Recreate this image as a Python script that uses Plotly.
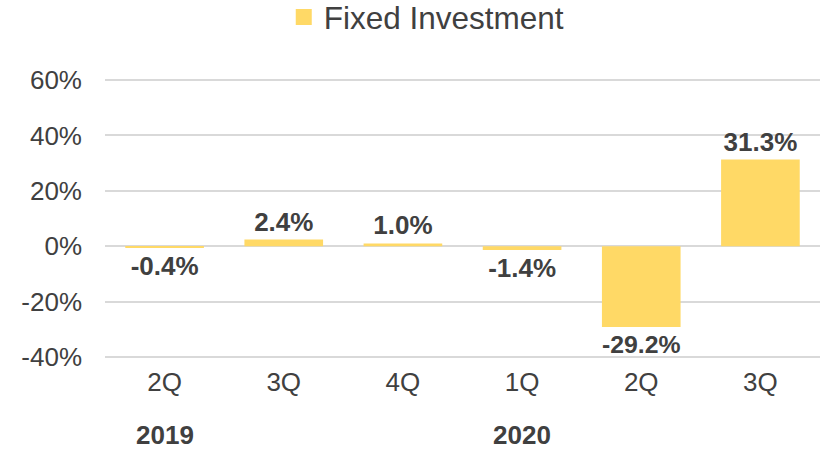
import plotly.graph_objects as go

categories = ["2Q", "3Q", "4Q", "1Q", "2Q ", "3Q "]
tick_labels = ["2Q", "3Q", "4Q", "1Q", "2Q", "3Q"]
values = [-0.4, 2.4, 1.0, -1.4, -29.2, 31.3]
years = ["2019", "2020"]
year_positions = [0, 3]
y_ticks = [-40, -20, 0, 20, 40, 60]
y_tick_labels = ["-40%", "-20%", "0%", "20%", "40%", "60%"]
series_name = "Fixed Investment"

font_family = "Liberation Sans, Arial, sans-serif"
dark = "#404040"
bar_color = "#FFD966"

fig = go.Figure()
fig.add_trace(go.Bar(
    x=categories, y=values, name=series_name,
    marker=dict(color=bar_color, line=dict(width=0)),
    width=0.66,
    text=[f"{v:.1f}%" for v in values],
    textposition="outside",
    textfont=dict(family=font_family, size=26, color=dark, weight="bold"),
    cliponaxis=False,
    showlegend=False,
    legendgroup="fi",
))
# legend entry only (larger square swatch)
fig.add_trace(go.Scatter(
    x=[None], y=[None], mode="markers", name=series_name, legendgroup="fi",
    marker=dict(symbol="square", size=16, color=bar_color),
    showlegend=True, hoverinfo="skip",
))

for yr, pos in zip(years, year_positions):
    fig.add_annotation(x=categories[pos], y=0, xref="x", yref="paper",
                       yshift=-77, yanchor="middle", text=f"<b>{yr}</b>",
                       showarrow=False,
                       font=dict(family=font_family, size=26, color=dark))

fig.update_layout(
    width=823, height=452,
    margin=dict(l=105, r=3, t=79, b=94, autoexpand=False),
    paper_bgcolor="white", plot_bgcolor="white",
    font=dict(family=font_family, size=26, color=dark),
    bargap=0.34,
    legend=dict(orientation="h", x=0.25, xanchor="left", y=1.222, yanchor="middle",
                yref="paper", font=dict(size=31.5, color=dark),
                itemwidth=30, traceorder="normal"),
    xaxis=dict(tickvals=categories, ticktext=tick_labels, showgrid=False,
               showline=False, ticks="", automargin=False,
               ticklabelstandoff=6, tickfont=dict(size=26, color=dark)),
    yaxis=dict(range=[-40.4, 60.4], tickvals=y_ticks, ticktext=y_tick_labels,
               showgrid=True, gridcolor="#D9D9D9", gridwidth=2,
               zeroline=True, zerolinecolor="#D9D9D9", zerolinewidth=2,
               showline=False, ticks="", automargin=False,
               ticklabelstandoff=22, tickfont=dict(size=26, color=dark)),
)

fig.write_html("out.html",
               config={"displayModeBar": False},
               post_script="document.body.style.margin='0';document.body.style.padding='0';")
